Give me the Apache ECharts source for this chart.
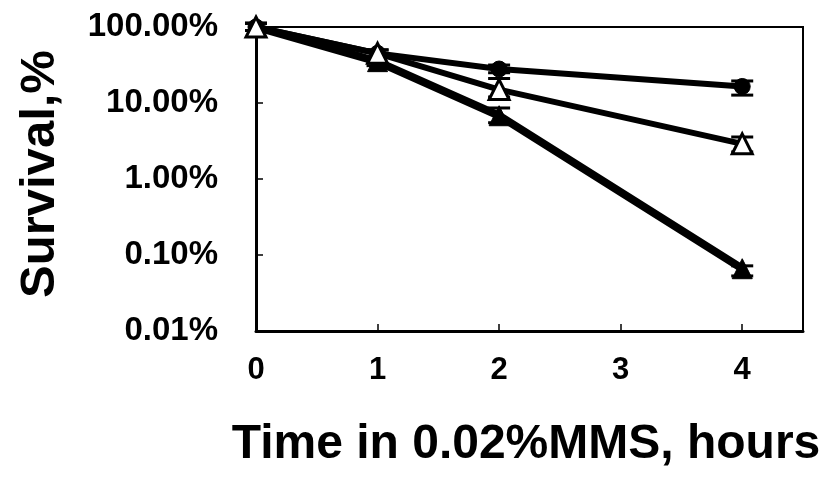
<!DOCTYPE html>
<html>
<head>
<meta charset="utf-8">
<script src="https://cdn.jsdelivr.net/npm/echarts@6/dist/echarts.min.js"></script>
<style>
  html, body { margin: 0; padding: 0; background: #fff; }
  #chart { width: 826px; height: 481px; }
</style>
</head>
<body>
<div id="chart"></div>
<script>
// hours in MMS
var hours = [0, 1, 2, 4];

// survival, percent
var circleVals = [100, 45, 28, 16.5];
var circleLow  = [90, 40, 25, 12.7];
var circleHigh = [112, 50, 31.6, 19.5];

var openTriVals = [100, 45, 15, 2.9];
var openTriLow  = [90, 40, 12, 2.27];
var openTriHigh = [112, 50, 21, 3.57];

var fillTriVals = [100, 35, 6.8, 0.066];
var fillTriLow  = [90, 31, 5.5, 0.053];
var fillTriHigh = [112, 40, 8.6, 0.072];

var font = '"Liberation Sans", Arial, sans-serif';

function pairs(vals) {
    var out = [];
    for (var i = 0; i < hours.length; i++) out.push([hours[i], vals[i]]);
    return out;
}
function errData(low, high) {
    var out = [];
    for (var i = 0; i < hours.length; i++) out.push([hours[i], low[i], high[i]]);
    return out;
}
function errSeries(low, high, z) {
    return {
        type: 'custom',
        z: z,
        clip: false,
        data: errData(low, high),
        encode: { x: 0, y: [1, 2] },
        renderItem: function (params, api) {
            var lo = api.coord([api.value(0), api.value(1)]);
            var hi = api.coord([api.value(0), api.value(2)]);
            var w = 11;
            var st = { stroke: '#000', lineWidth: 3 };
            return {
                type: 'group',
                children: [
                    { type: 'line', shape: { x1: lo[0], y1: lo[1], x2: hi[0], y2: hi[1] }, style: st },
                    { type: 'line', shape: { x1: hi[0] - w, y1: hi[1], x2: hi[0] + w, y2: hi[1] }, style: st },
                    { type: 'line', shape: { x1: lo[0] - w, y1: lo[1], x2: lo[0] + w, y2: lo[1] }, style: st }
                ]
            };
        }
    };
}

var myChart = echarts.init(document.getElementById('chart'));
var option = {
    animation: false,
    backgroundColor: '#fff',
    grid: {
        left: 256, top: 27, width: 547, height: 304,
        show: true, borderColor: '#000', borderWidth: 2, backgroundColor: 'transparent'
    },
    xAxis: {
        type: 'value',
        min: 0, max: 4.5, interval: 1,
        splitLine: { show: false },
        axisLine: { lineStyle: { color: '#000', width: 3 } },
        axisTick: { inside: true, length: 7, lineStyle: { color: '#000', width: 1.5 } },
        axisLabel: {
            color: '#000', fontSize: 31, fontWeight: 'bold', fontFamily: font, margin: 24,
            showMaxLabel: false,
            formatter: function (v) { return v % 1 === 0 ? String(v) : ''; }
        }
    },
    yAxis: {
        type: 'log', logBase: 10,
        min: 0.01, max: 100,
        splitLine: { show: false },
        minorTick: { show: false },
        axisLine: { show: true, lineStyle: { color: '#000', width: 3 } },
        axisTick: { inside: true, length: 7, lineStyle: { color: '#000', width: 1.5 } },
        axisLabel: {
            color: '#000', fontSize: 33, fontWeight: 'bold', fontFamily: font, margin: 38,
            formatter: function (v) { return Number(v).toFixed(2) + '%'; }
        }
    },
    graphic: [
        {
            type: 'text', x: 40, y: 174, rotation: Math.PI / 2,
            style: { text: 'Survival,%', fill: '#000', font: 'bold 49px ' + font, align: 'center', verticalAlign: 'middle' }
        },
        {
            type: 'text', x: 526, y: 445,
            style: { text: 'Time in 0.02%MMS, hours', fill: '#000', font: 'bold 48px ' + font, align: 'center', verticalAlign: 'middle' }
        }
    ],
    series: [
        errSeries(fillTriLow, fillTriHigh, 2),
        {
            name: 'filled triangle', type: 'line', z: 3,
            data: pairs(fillTriVals),
            symbol: 'triangle', symbolSize: 20,
            lineStyle: { color: '#000', width: 8 },
            itemStyle: { color: '#000', borderColor: '#000', borderWidth: 1 }
        },
        errSeries(circleLow, circleHigh, 4),
        {
            name: 'circle', type: 'line', z: 5,
            data: pairs(circleVals),
            symbol: 'circle', symbolSize: 16,
            lineStyle: { color: '#000', width: 6 },
            itemStyle: { color: '#000', borderColor: '#000', borderWidth: 1 }
        },
        errSeries(openTriLow, openTriHigh, 6),
        {
            name: 'open triangle', type: 'line', z: 7,
            data: pairs(openTriVals),
            symbol: 'triangle', symbolSize: 20,
            lineStyle: { color: '#000', width: 6 },
            itemStyle: { color: '#fff', borderColor: '#000', borderWidth: 3 }
        }
    ]
};
myChart.setOption(option);
</script>
</body>
</html>
